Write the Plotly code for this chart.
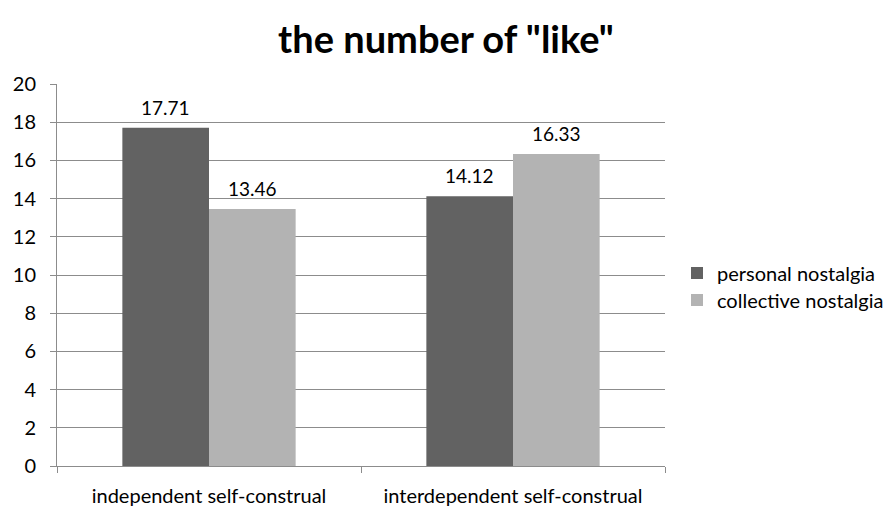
import plotly.graph_objects as go

categories = ["independent self-construal", "interdependent self-construal"]
personal = [17.71, 14.12]
collective = [13.46, 16.33]
series_names = ["personal nostalgia", "collective nostalgia"]
colors = ["#626262", "#b3b3b3"]
title = 'the number of "like"'
yticks = list(range(0, 21, 2))

font = "Lato, Carlito, Calibri, sans-serif"
W, H = 892, 512

fig = go.Figure()
legend_ids = ["legend", "legend2"]
for i, (name, vals, col) in enumerate(zip(series_names, [personal, collective], colors)):
    fig.add_trace(go.Bar(
        x=categories, y=vals, name=name, marker=dict(color=col, line=dict(width=0)),
        offsetgroup=str(i), legend=legend_ids[i],
    ))

# data labels via annotations positioned with the axis scales
n = len(series_names)
for i, vals in enumerate([personal, collective]):
    for j, (c, v) in enumerate(zip(categories, vals)):
        fig.add_annotation(
            x=c, y=v, xref="x", yref="y", text=f"{v:.2f}", showarrow=False,
            yanchor="bottom", yshift=7, xshift=(i - (n - 1) / 2) * 86.5,
            font=dict(size=19, color="#000000", family=font),
        )

legend_style = dict(xref="container", yref="container", x=677 / W, xanchor="left",
                    yanchor="middle", font=dict(size=20, family=font, color="#000000"),
                    itemwidth=30, bgcolor="rgba(0,0,0,0)")

fig.update_layout(
    width=W, height=H,
    margin=dict(l=57, r=227, t=84, b=46, autoexpand=False),
    paper_bgcolor="white", plot_bgcolor="white",
    barmode="group", bargap=0.43, bargroupgap=0,
    title=dict(text=title, x=0.5, xanchor="center", xref="container", y=1 - 40 / H,
               yref="container", yanchor="middle",
               font=dict(size=38, family=font, color="#000000", weight="bold")),
    font=dict(family=font, size=20, color="#000000"),
    legend=dict(**legend_style, y=1 - 273 / H),
    legend2=dict(**legend_style, y=1 - 300 / H),
    showlegend=True,
)
fig.update_yaxes(range=[0, 20], tickvals=yticks, showgrid=True, gridcolor="#8c8c8c", gridwidth=1,
                 showline=True, linecolor="#8c8c8c", linewidth=1, ticks="outside", ticklen=6,
                 tickcolor="#8c8c8c", tickfont=dict(size=20, family=font), zeroline=False,
                 ticklabelstandoff=10, automargin=False)
fig.update_xaxes(showline=True, linecolor="#8c8c8c", linewidth=1, ticks="outside", ticklen=6,
                 tickcolor="#8c8c8c", tickson="boundaries", tickfont=dict(size=20, family=font),
                 ticklabelstandoff=12, automargin=False)

fig.write_html("out.html")
